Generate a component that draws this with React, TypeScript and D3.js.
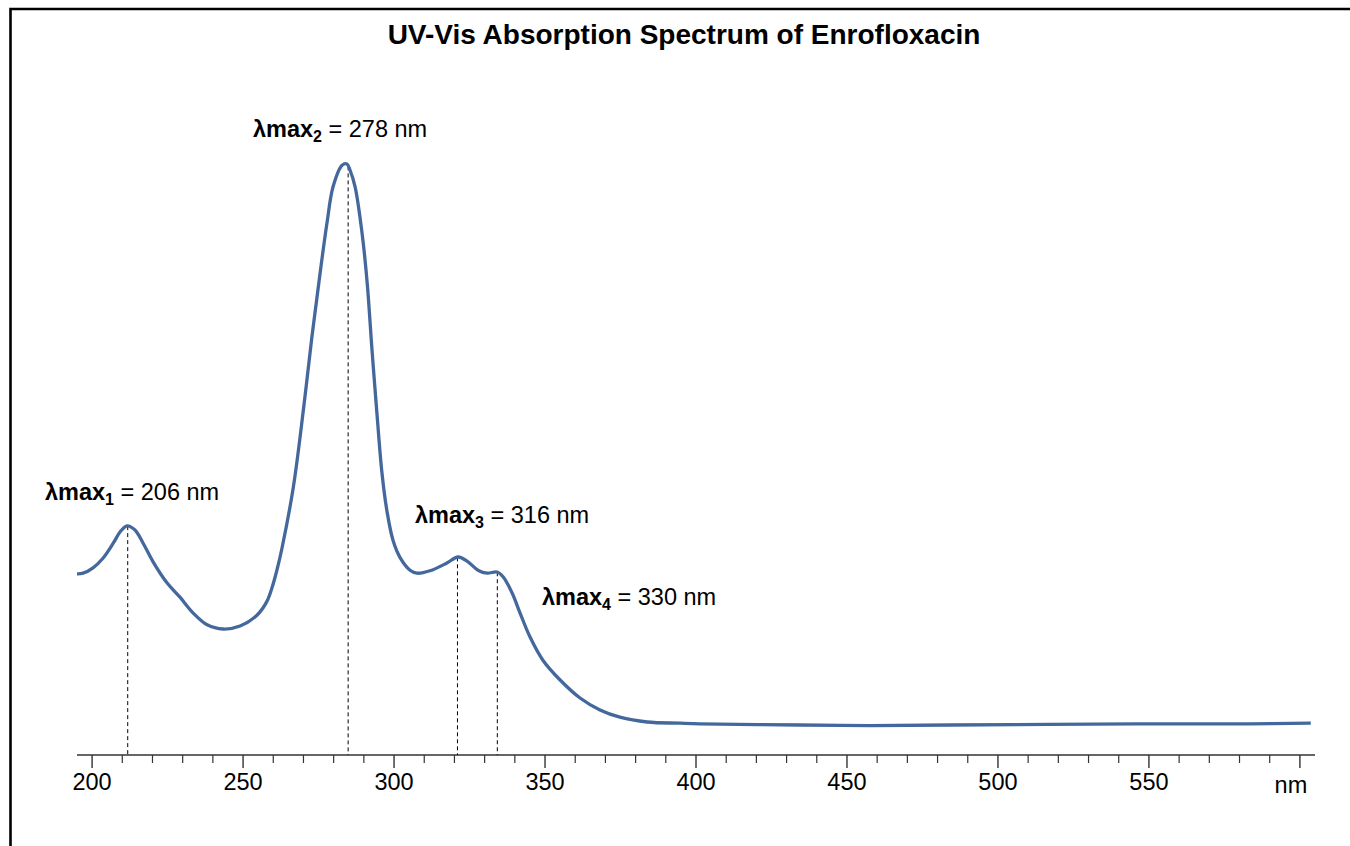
import * as d3 from "d3";

// spectrum (wavelength in axis units, absorbance arbitrary)
const wavelengths = [
  195.0, 197.0, 200.3, 203.6, 207.0, 209.3, 211.6, 214.2, 216.9, 220.2, 224.8, 229.1, 233.4,
  238.1, 243.4, 249.0, 254.6, 257.9, 259.6, 261.3, 262.9, 266.6, 269.9, 272.8, 275.5,
  277.8, 279.8, 282.8, 284.4, 285.4, 287.1, 289.4, 291.1, 292.7, 294.4, 296.0, 297.7, 299.7,
  302.0, 305.3, 307.6, 311.9, 317.5, 321.2, 324.5, 327.8, 330.8, 334.1, 336.1, 339.1, 341.7,
  345.0, 349.3, 355.0, 361.6, 368.2, 374.8, 383.8, 394.7, 401.3, 434.4, 457.6, 484.0, 517.0,
  550.0, 583.0, 603.6,
];
const absorbance = [
  0.302, 0.303, 0.312, 0.328, 0.353, 0.372, 0.382, 0.375, 0.353, 0.322, 0.287, 0.263, 0.237,
  0.217, 0.21, 0.215, 0.233, 0.256, 0.279, 0.31, 0.345, 0.445, 0.572, 0.697, 0.803,
  0.887, 0.947, 0.983, 0.985, 0.975, 0.947, 0.87, 0.787, 0.675, 0.565, 0.47, 0.405, 0.357,
  0.329, 0.308, 0.303, 0.307, 0.32, 0.33, 0.322, 0.308, 0.303, 0.305, 0.297, 0.27, 0.237,
  0.197, 0.158, 0.125, 0.095, 0.075, 0.063, 0.055, 0.053, 0.052, 0.05, 0.049, 0.05, 0.051,
  0.052, 0.052, 0.053,
];

// dashed marker positions (axis units) and their labels
const peakPositions = [211.8, 284.8, 321.0, 334.2];
const peakIndex = ["1", "2", "3", "4"];
const peakValues = ["206", "278", "316", "330"];

const majorTicks = [200, 250, 300, 350, 400, 450, 500, 550, 600];
const majorTickLabels = ["200", "250", "300", "350", "400", "450", "500", "550", "nm"];

const W = 1350;
const H = 846;
const FONT = "'Liberation Sans', Arial, sans-serif";

// label anchor points (left x, baseline y) in pixels
const labelPos = [
  [45, 500],
  [253, 137],
  [415, 523],
  [542, 605],
];

export default function App() {
  const x = d3.scaleLinear().domain([195, 605]).range([77, 1315]);
  const y = d3.scaleLinear().domain([0, 1]).range([755, 155]);
  const axisY = 755;

  const data = wavelengths.map((w, i) => ({ w, a: absorbance[i] }));
  const line = d3
    .line<{ w: number; a: number }>()
    .x((d) => x(d.w))
    .y((d) => y(d.a))
    .curve(d3.curveCatmullRom.alpha(0.5));

  const interpA = (w: number) => {
    const i = d3.bisector((d: { w: number }) => d.w).left(data, w);
    const p0 = data[Math.max(0, i - 1)];
    const p1 = data[Math.min(data.length - 1, i)];
    if (p1.w === p0.w) return p0.a;
    return p0.a + ((w - p0.w) / (p1.w - p0.w)) * (p1.a - p0.a);
  };

  const minorTicks = d3.range(200, 601, 10).filter((t) => t % 50 !== 0);

  return (
    <svg
      width={W}
      height={H}
      style={{ position: "absolute", left: 0, top: 0, background: "#fff" }}
      fontFamily={FONT}
    >
      <path d={`M${W + 5},9 H10.5 V${H + 5}`} fill="none" stroke="#000" strokeWidth={2.6} />

      <text x={684} y={44} textAnchor="middle" fontSize={28} fontWeight="bold" fill="#000">
        UV-Vis Absorption Spectrum of Enrofloxacin
      </text>

      {/* axis */}
      <line x1={x(195)} x2={x(605)} y1={axisY} y2={axisY} stroke="#333" strokeWidth={1.6} />
      {minorTicks.map((t) => (
        <line key={"m" + t} x1={x(t)} x2={x(t)} y1={axisY} y2={axisY + 8} stroke="#333" strokeWidth={1.2} />
      ))}
      {majorTicks.map((t, i) => (
        <g key={"M" + t}>
          <line x1={x(t)} x2={x(t)} y1={axisY} y2={axisY + 13} stroke="#333" strokeWidth={1.4} />
          <text
            x={x(t) - (i === majorTicks.length - 1 ? 9 : 0)}
            y={i === majorTicks.length - 1 ? 793 : 790}
            textAnchor="middle"
            fontSize={23.5}
            fill="#000"
          >
            {majorTickLabels[i]}
          </text>
        </g>
      ))}

      {/* dashed drop lines */}
      {peakPositions.map((p) => (
        <line
          key={"d" + p}
          x1={x(p)}
          x2={x(p)}
          y1={y(interpA(p))}
          y2={axisY}
          stroke="#000"
          strokeWidth={1}
          strokeDasharray="4,3"
        />
      ))}

      <path d={line(data) || ""} fill="none" stroke="#44689c" strokeWidth={3.3} strokeLinejoin="round" />

      {peakIndex.map((k, i) => (
        <text key={"l" + k} x={labelPos[i][0]} y={labelPos[i][1]} fontSize={23.5} fill="#000">
          <tspan fontWeight="bold">λmax</tspan>
          <tspan fontWeight="bold" fontSize={16} dy={5}>
            {k}
          </tspan>
          <tspan dy={-5}>{" = " + peakValues[i] + " nm"}</tspan>
        </text>
      ))}
    </svg>
  );
}
